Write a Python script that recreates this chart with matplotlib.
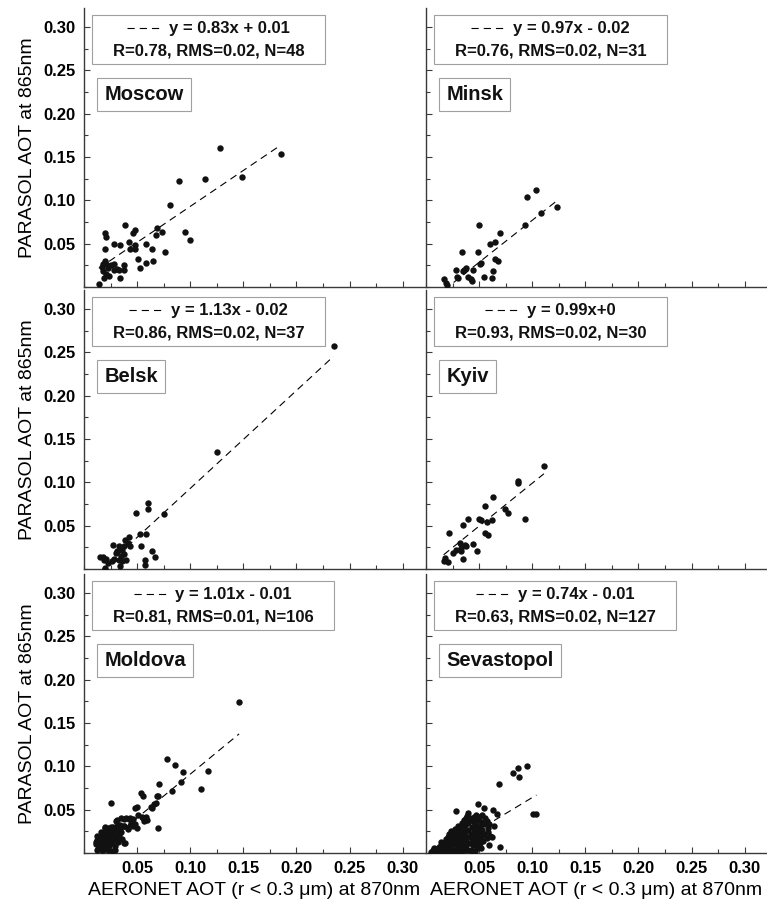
import numpy as np
import matplotlib
matplotlib.use("Agg")
import matplotlib.pyplot as plt
from matplotlib.lines import Line2D
from matplotlib.ticker import MultipleLocator, FormatStrFormatter
from matplotlib.offsetbox import AnchoredOffsetbox, VPacker, HPacker, TextArea, DrawingArea

plt.rcParams['font.family'] = ['Liberation Sans', 'DejaVu Sans']

# AERONET (x) vs PARASOL (y) AOT
moscow_x = [0.185, 0.128, 0.149, 0.114, 0.089, 0.081, 0.039, 0.020, 0.021, 0.048,
            0.046, 0.069, 0.073, 0.068, 0.095, 0.100, 0.028, 0.042, 0.034, 0.048,
            0.058, 0.020, 0.043, 0.048, 0.064, 0.076, 0.051, 0.065, 0.058, 0.053,
            0.038, 0.038, 0.020, 0.018, 0.021, 0.017, 0.025, 0.028, 0.031, 0.023,
            0.018, 0.024, 0.021, 0.034, 0.019, 0.014, 0.028, 0.033]
moscow_y = [0.154, 0.161, 0.127, 0.125, 0.122, 0.095, 0.072, 0.062, 0.058, 0.066,
            0.062, 0.068, 0.064, 0.060, 0.064, 0.054, 0.050, 0.052, 0.048, 0.049,
            0.050, 0.044, 0.044, 0.044, 0.044, 0.040, 0.032, 0.030, 0.028, 0.022,
            0.025, 0.020, 0.030, 0.027, 0.027, 0.023, 0.025, 0.027, 0.021, 0.022,
            0.018, 0.013, 0.015, 0.010, 0.010, 0.004, 0.020, 0.020]

minsk_x = [0.104, 0.095, 0.123, 0.108, 0.093, 0.050, 0.070, 0.060, 0.065, 0.034,
           0.049, 0.052, 0.065, 0.068, 0.028, 0.036, 0.044, 0.063, 0.029, 0.040,
           0.055, 0.0625, 0.043, 0.017, 0.019, 0.020, 0.030, 0.035, 0.038, 0.051,
           0.042]
minsk_y = [0.112, 0.104, 0.092, 0.085, 0.072, 0.072, 0.062, 0.050, 0.052, 0.040,
           0.040, 0.028, 0.032, 0.030, 0.020, 0.020, 0.020, 0.018, 0.012, 0.012,
           0.012, 0.010, 0.007, 0.009, 0.005, 0.002, 0.010, 0.018, 0.0215, 0.027,
           0.009]

belsk_x = [0.235, 0.125, 0.060, 0.060, 0.049, 0.075, 0.053, 0.058, 0.054, 0.064,
           0.067, 0.057, 0.057, 0.042, 0.039, 0.043, 0.0275, 0.033, 0.036, 0.030,
           0.038, 0.040, 0.036, 0.033, 0.0265, 0.0225, 0.019, 0.015, 0.018, 0.021,
           0.034, 0.020, 0.0315, 0.0375, 0.028, 0.041, 0.035]
belsk_y = [0.257, 0.135, 0.0765, 0.069, 0.065, 0.063, 0.040, 0.040, 0.0265, 0.021,
           0.014, 0.010, 0.005, 0.0365, 0.033, 0.0265, 0.028, 0.0265, 0.022, 0.019,
           0.017, 0.010, 0.009, 0.010, 0.009, 0.0065, 0.010, 0.014, 0.014, 0.012,
           0.003, 0.001, 0.021, 0.026, 0.012, 0.030, 0.015]

kyiv_x = [0.111, 0.0865, 0.0866, 0.063, 0.093, 0.056, 0.074, 0.077, 0.050, 0.052,
          0.057, 0.0625, 0.040, 0.035, 0.0215, 0.0556, 0.058, 0.032, 0.037, 0.044,
          0.0325, 0.0285, 0.025, 0.048, 0.035, 0.018, 0.0166, 0.021, 0.038, 0.033]
kyiv_y = [0.119, 0.0996, 0.101, 0.083, 0.058, 0.073, 0.069, 0.065, 0.058, 0.0565,
          0.0545, 0.0565, 0.058, 0.051, 0.041, 0.041, 0.039, 0.030, 0.028, 0.0285,
          0.021, 0.022, 0.0185, 0.021, 0.012, 0.013, 0.009, 0.0077, 0.0265, 0.024]

moldova_x = [0.146, 0.078, 0.0856, 0.117, 0.093, 0.091, 0.0706, 0.1106, 0.083, 0.054,
             0.0556, 0.070, 0.025, 0.068, 0.063, 0.064, 0.050, 0.048, 0.055, 0.0588,
             0.0566, 0.070, 0.043, 0.040, 0.035, 0.0297, 0.0447, 0.050, 0.0416, 0.046,
             0.034, 0.038, 0.0275, 0.0197, 0.023, 0.0306, 0.035, 0.026, 0.021, 0.0166,
             0.012, 0.0144, 0.024, 0.029, 0.033, 0.018, 0.023, 0.0275, 0.015, 0.011,
             0.0197, 0.026, 0.038, 0.0134, 0.018, 0.024, 0.012, 0.0166, 0.0266, 0.021,
             0.069, 0.066, 0.051, 0.059, 0.056, 0.031, 0.038, 0.042, 0.046, 0.031,
             0.038, 0.044, 0.048, 0.041, 0.020, 0.025, 0.014, 0.019, 0.023, 0.028,
             0.033, 0.016, 0.021, 0.026, 0.031, 0.036, 0.012, 0.017, 0.022, 0.027,
             0.032, 0.015, 0.020, 0.024, 0.029, 0.013, 0.018, 0.023, 0.029, 0.039,
             0.011, 0.016, 0.021, 0.026, 0.034, 0.019]
moldova_y = [0.174, 0.108, 0.101, 0.095, 0.0935, 0.0815, 0.0796, 0.0735, 0.0715, 0.0696,
             0.0658, 0.0658, 0.0577, 0.0577, 0.0535, 0.0515, 0.0535, 0.0515, 0.0415, 0.041,
             0.037, 0.029, 0.040, 0.040, 0.040, 0.037, 0.034, 0.029, 0.0285, 0.0315,
             0.032, 0.0315, 0.030, 0.029, 0.029, 0.0265, 0.0246, 0.0246, 0.0227, 0.021,
             0.020, 0.019, 0.020, 0.019, 0.021, 0.017, 0.016, 0.015, 0.014, 0.013,
             0.0123, 0.011, 0.011, 0.009, 0.0073, 0.0085, 0.0035, 0.003, 0.0023, 0.0054,
             0.066, 0.057, 0.044, 0.038, 0.040, 0.038, 0.039, 0.039, 0.039, 0.031,
             0.031, 0.033, 0.033, 0.028, 0.030, 0.030, 0.019, 0.021, 0.024, 0.021,
             0.024, 0.024, 0.026, 0.027, 0.018, 0.016, 0.015, 0.013, 0.013, 0.017,
             0.013, 0.009, 0.008, 0.011, 0.008, 0.005, 0.003, 0.004, 0.003, 0.012,
             0.010, 0.016, 0.018, 0.020, 0.028, 0.006]

sevastopol_x = [0.0947, 0.0866, 0.082, 0.0878, 0.069, 0.049, 0.028, 0.0547, 0.063, 0.067,
                0.101, 0.104, 0.070, 0.062, 0.064, 0.057, 0.058, 0.0516, 0.059,
                0.005, 0.007, 0.009, 0.010, 0.011, 0.012, 0.008, 0.012,
                0.013, 0.014, 0.015, 0.016, 0.017, 0.017, 0.018, 0.019, 0.019, 0.020,
                0.020, 0.014,
                0.021, 0.021, 0.022, 0.023, 0.023, 0.024, 0.024, 0.025, 0.025, 0.026,
                0.026, 0.027, 0.027, 0.028, 0.028, 0.022,
                0.029, 0.029, 0.030, 0.030, 0.031, 0.031, 0.032, 0.032, 0.033, 0.033,
                0.034, 0.034, 0.035, 0.035, 0.036, 0.036, 0.036, 0.030,
                0.037, 0.037, 0.038, 0.038, 0.039, 0.039, 0.040, 0.040, 0.041, 0.041,
                0.042, 0.042, 0.043, 0.043, 0.044, 0.044, 0.038, 0.040,
                0.045, 0.045, 0.046, 0.046, 0.047, 0.047, 0.048, 0.048, 0.049, 0.049,
                0.050, 0.050, 0.051, 0.051, 0.052, 0.052,
                0.053, 0.053, 0.054, 0.055, 0.055, 0.056, 0.057, 0.058, 0.059, 0.060,
                0.024, 0.026, 0.018, 0.032, 0.034, 0.039, 0.046, 0.035, 0.043, 0.048]
sevastopol_y = [0.100, 0.098, 0.092, 0.0877, 0.0796, 0.057, 0.049, 0.0515, 0.050, 0.045,
                0.045, 0.045, 0.0065, 0.019, 0.031, 0.037, 0.0285, 0.0054, 0.009,
                0.001, 0.003, 0.002, 0.005, 0.001, 0.007, 0.006, 0.003,
                0.002, 0.009, 0.005, 0.011, 0.001, 0.007, 0.013, 0.004, 0.016, 0.009,
                0.002, 0.013,
                0.006, 0.019, 0.012, 0.001, 0.015, 0.025, 0.008, 0.020, 0.004, 0.013,
                0.017, 0.028, 0.010, 0.002, 0.022, 0.022,
                0.015, 0.006, 0.031, 0.011, 0.019, 0.024, 0.003, 0.027, 0.009, 0.014,
                0.035, 0.021, 0.017, 0.029, 0.005, 0.011, 0.038, 0.001,
                0.024, 0.032, 0.008, 0.015, 0.043, 0.019, 0.027, 0.035, 0.012, 0.040,
                0.022, 0.003, 0.030, 0.017, 0.037, 0.009, 0.040, 0.046,
                0.025, 0.041, 0.014, 0.033, 0.044, 0.020, 0.029, 0.006, 0.038, 0.016,
                0.023, 0.042, 0.031, 0.011, 0.036, 0.019,
                0.027, 0.044, 0.014, 0.033, 0.022, 0.040, 0.017, 0.024, 0.033, 0.020,
                0.003, 0.001, 0.009, 0.017, 0.001, 0.003, 0.002, 0.007, 0.001, 0.010]

stations = ['Moscow', 'Minsk', 'Belsk', 'Kyiv', 'Moldova', 'Sevastopol']
xs_all = [moscow_x, minsk_x, belsk_x, kyiv_x, moldova_x, sevastopol_x]
ys_all = [moscow_y, minsk_y, belsk_y, kyiv_y, moldova_y, sevastopol_y]
slopes = [0.83, 0.97, 1.13, 0.99, 1.01, 0.74]
intercepts = [0.01, -0.02, -0.02, 0.0, -0.01, -0.01]
fit_labels = ['y = 0.83x + 0.01', 'y = 0.97x - 0.02', 'y = 1.13x - 0.02',
              'y = 0.99x+0', 'y = 1.01x - 0.01', 'y = 0.74x - 0.01']
stat_labels = ['R=0.78, RMS=0.02, N=48', 'R=0.76, RMS=0.02, N=31',
               'R=0.86, RMS=0.02, N=37', 'R=0.93, RMS=0.02, N=30',
               'R=0.81, RMS=0.01, N=106', 'R=0.63, RMS=0.02, N=127']
ticks = [0.05, 0.10, 0.15, 0.20, 0.25, 0.30]

W, H = 767, 902
fig = plt.figure(figsize=(W / 100, H / 100), dpi=100)

col_left = [84, 426]
row_top = [8, 290, 574]
aw, ah = 341, 279
spine_col = '#3a3a3a'
box_col = '#a0a0a0'


def fit_box(ax, eq, stats):
    da = DrawingArea(23, 8, 0, 0)
    da.add_artist(Line2D([0, 23], [4, 4], color='k', lw=0.8, ls=(0, (6.5, 4.5))))
    tp = dict(fontsize=12, fontweight='bold', color='#111111')
    row1 = HPacker(children=[da, TextArea(eq, textprops=tp)], align='center', pad=0, sep=7)
    inner = VPacker(children=[row1, TextArea(stats, textprops=tp)], align='center', pad=0, sep=5.5)
    wrap = HPacker(children=[DrawingArea(10.5, 1), inner, DrawingArea(10.5, 1)],
                   align='center', pad=0, sep=0)
    anc = AnchoredOffsetbox(loc='upper left', child=wrap, pad=0.42, frameon=True,
                            bbox_to_anchor=(0.024, 0.975), bbox_transform=ax.transAxes,
                            borderpad=0)
    anc.patch.set_boxstyle('square', pad=0)
    anc.patch.set_edgecolor(box_col)
    anc.patch.set_linewidth(0.8)
    ax.add_artist(anc)


for i, name in enumerate(stations):
    r, c = divmod(i, 2)
    left = col_left[c] / W
    bottom = (H - row_top[r] - ah) / H
    ax = fig.add_axes([left, bottom, aw / W, ah / H])

    x = np.array(xs_all[i])
    y = np.array(ys_all[i])
    xl = np.array([x.min(), x.max()])
    ax.plot(xl, slopes[i] * xl + intercepts[i], color='k', lw=0.8,
            ls=(0, (6.5, 4.5)), zorder=2)
    ax.plot(x, y, 'o', color='#111111', ms=4.6, mew=0, zorder=3)

    ax.set_xlim(0, 0.321)
    ax.set_ylim(0, 0.322)
    ax.set_xticks(ticks)
    ax.set_yticks(ticks)
    ax.xaxis.set_minor_locator(MultipleLocator(0.025))
    ax.yaxis.set_minor_locator(MultipleLocator(0.025))
    ax.xaxis.set_major_formatter(FormatStrFormatter('%.2f'))
    ax.yaxis.set_major_formatter(FormatStrFormatter('%.2f'))
    ax.tick_params(which='both', direction='in', color=spine_col, width=0.8,
                   labelsize=12, pad=6)
    ax.tick_params(which='major', length=4)
    ax.tick_params(which='minor', length=2.8)
    for s in ['top', 'right']:
        ax.spines[s].set_visible(False)
    for s in ['left', 'bottom']:
        ax.spines[s].set_color(spine_col)
        ax.spines[s].set_linewidth(1.0)
    for lab in ax.get_xticklabels() + ax.get_yticklabels():
        lab.set_fontweight('bold')

    if c == 0:
        ax.set_ylabel('PARASOL AOT at 865nm', fontsize=14, labelpad=5)
    else:
        ax.tick_params(labelleft=False)
    if r == 2:
        ax.set_xlabel('AERONET AOT (r < 0.3 \u03bcm) at 870nm', fontsize=14, labelpad=4)
    else:
        ax.tick_params(labelbottom=False)

    fit_box(ax, fit_labels[i], stat_labels[i])
    ax.text(0.06, 0.724, name, transform=ax.transAxes, ha='left', va='top',
            fontsize=14.5, fontweight='bold', color='#111111',
            bbox=dict(boxstyle='square,pad=0.35', fc='white', ec=box_col, lw=0.8))

fig.savefig('out.png', dpi=100)
